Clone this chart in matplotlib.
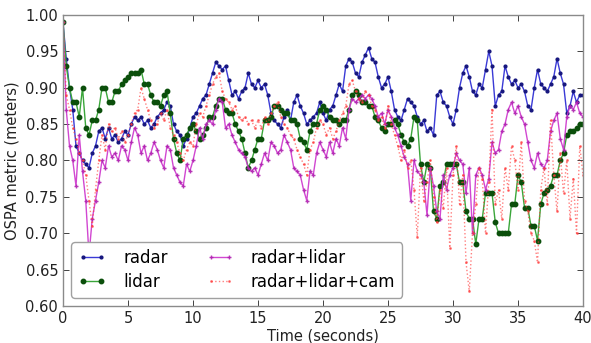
import matplotlib
matplotlib.use("Agg")
import matplotlib.pyplot as plt
import numpy as np

# time axis (seconds), one sample every 0.25 s
time_s = np.linspace(0, 40, 161)

radar = [
    0.99, 0.94, 0.90, 0.87, 0.82, 0.81, 0.80, 0.795, 0.79, 0.81, 0.82, 0.84, 0.845, 0.83, 0.845, 0.83, 0.835, 0.825, 0.83, 0.84,
    0.835, 0.85, 0.86, 0.855, 0.86, 0.85, 0.855, 0.845, 0.85, 0.86, 0.865, 0.87, 0.88, 0.875, 0.85, 0.84, 0.835, 0.82, 0.83, 0.845,
    0.86, 0.865, 0.875, 0.885, 0.89, 0.905, 0.92, 0.935, 0.93, 0.925, 0.93, 0.91, 0.89, 0.895, 0.885, 0.895, 0.90, 0.92, 0.905, 0.90,
    0.91, 0.90, 0.905, 0.89, 0.865, 0.855, 0.85, 0.845, 0.86, 0.87, 0.855, 0.88, 0.89, 0.875, 0.865, 0.85, 0.855, 0.86, 0.865, 0.88,
    0.865, 0.855, 0.87, 0.875, 0.89, 0.905, 0.895, 0.93, 0.94, 0.935, 0.92, 0.915, 0.935, 0.945, 0.955, 0.94, 0.935, 0.915, 0.90, 0.905,
    0.915, 0.895, 0.87, 0.86, 0.855, 0.87, 0.885, 0.88, 0.875, 0.86, 0.85, 0.855, 0.84, 0.845, 0.835, 0.89, 0.895, 0.88, 0.875, 0.86,
    0.85, 0.87, 0.90, 0.92, 0.93, 0.915, 0.895, 0.89, 0.905, 0.90, 0.925, 0.95, 0.93, 0.875, 0.89, 0.895, 0.93, 0.915, 0.905, 0.91,
    0.90, 0.905, 0.895, 0.875, 0.87, 0.90, 0.925, 0.905, 0.90, 0.895, 0.905, 0.915, 0.94, 0.92, 0.905, 0.865, 0.875, 0.895, 0.88, 0.89,
    0.89,
]

lidar = [
    0.99, 0.93, 0.90, 0.88, 0.88, 0.86, 0.90, 0.845, 0.835, 0.855, 0.855, 0.87, 0.90, 0.90, 0.88, 0.88, 0.895, 0.895, 0.905, 0.91,
    0.915, 0.92, 0.92, 0.92, 0.925, 0.905, 0.905, 0.89, 0.88, 0.88, 0.875, 0.89, 0.895, 0.865, 0.83, 0.81, 0.80, 0.83, 0.835, 0.845,
    0.85, 0.84, 0.83, 0.835, 0.845, 0.86, 0.86, 0.875, 0.885, 0.885, 0.87, 0.865, 0.865, 0.85, 0.84, 0.83, 0.81, 0.79, 0.80, 0.815,
    0.83, 0.83, 0.855, 0.855, 0.86, 0.875, 0.875, 0.87, 0.865, 0.865, 0.855, 0.855, 0.85, 0.83, 0.825, 0.815, 0.84, 0.85, 0.85, 0.87,
    0.875, 0.87, 0.86, 0.855, 0.855, 0.85, 0.855, 0.855, 0.87, 0.89, 0.895, 0.89, 0.88, 0.88, 0.875, 0.875, 0.86, 0.855, 0.845, 0.84,
    0.85, 0.85, 0.855, 0.85, 0.835, 0.825, 0.82, 0.83, 0.86, 0.855, 0.795, 0.77, 0.795, 0.79, 0.73, 0.72, 0.765, 0.77, 0.795, 0.795,
    0.795, 0.795, 0.77, 0.77, 0.73, 0.72, 0.72, 0.685, 0.72, 0.72, 0.755, 0.755, 0.755, 0.715, 0.70, 0.70, 0.70, 0.70, 0.74, 0.74,
    0.78, 0.77, 0.735, 0.735, 0.71, 0.71, 0.69, 0.74, 0.755, 0.76, 0.765, 0.78, 0.78, 0.80, 0.81, 0.835, 0.84, 0.84, 0.845, 0.85,
    0.85,
]

radar_lidar = [
    0.99, 0.87, 0.82, 0.80, 0.765, 0.835, 0.785, 0.745, 0.67, 0.72, 0.745, 0.77, 0.80, 0.79, 0.82, 0.805, 0.81, 0.80, 0.82, 0.815,
    0.80, 0.825, 0.845, 0.835, 0.81, 0.82, 0.80, 0.81, 0.825, 0.815, 0.80, 0.79, 0.82, 0.815, 0.79, 0.78, 0.77, 0.765, 0.795, 0.785,
    0.80, 0.82, 0.845, 0.83, 0.85, 0.855, 0.85, 0.87, 0.885, 0.88, 0.845, 0.85, 0.835, 0.825, 0.815, 0.81, 0.805, 0.79, 0.785, 0.79,
    0.78, 0.795, 0.81, 0.80, 0.825, 0.82, 0.81, 0.815, 0.835, 0.825, 0.815, 0.79, 0.785, 0.78, 0.76, 0.745, 0.785, 0.78, 0.81, 0.825,
    0.815, 0.805, 0.825, 0.81, 0.83, 0.82, 0.845, 0.83, 0.87, 0.885, 0.88, 0.885, 0.89, 0.885, 0.89, 0.885, 0.875, 0.86, 0.865, 0.85,
    0.87, 0.86, 0.845, 0.835, 0.82, 0.805, 0.795, 0.745, 0.80, 0.785, 0.78, 0.77, 0.725, 0.79, 0.765, 0.73, 0.72, 0.78, 0.76, 0.78,
    0.79, 0.81, 0.80, 0.795, 0.755, 0.79, 0.70, 0.78, 0.79, 0.78, 0.76, 0.775, 0.825, 0.81, 0.815, 0.84, 0.85, 0.87, 0.88, 0.865,
    0.875, 0.86, 0.85, 0.825, 0.80, 0.79, 0.81, 0.795, 0.79, 0.80, 0.84, 0.855, 0.865, 0.83, 0.815, 0.86, 0.875, 0.87, 0.88, 0.865,
    0.86,
]

radar_lidar_cam = [
    0.99, 0.89, 0.87, 0.845, 0.83, 0.81, 0.80, 0.78, 0.745, 0.71, 0.76, 0.80, 0.835, 0.815, 0.85, 0.84, 0.845, 0.83, 0.84, 0.825,
    0.835, 0.85, 0.865, 0.87, 0.90, 0.885, 0.87, 0.855, 0.845, 0.85, 0.865, 0.855, 0.87, 0.845, 0.835, 0.825, 0.81, 0.80, 0.815, 0.825,
    0.82, 0.85, 0.865, 0.86, 0.875, 0.89, 0.905, 0.915, 0.92, 0.895, 0.885, 0.88, 0.87, 0.875, 0.86, 0.855, 0.86, 0.85, 0.855, 0.845,
    0.855, 0.845, 0.86, 0.85, 0.865, 0.875, 0.88, 0.86, 0.85, 0.845, 0.835, 0.83, 0.815, 0.805, 0.795, 0.78, 0.815, 0.825, 0.845, 0.855,
    0.85, 0.835, 0.845, 0.83, 0.84, 0.855, 0.865, 0.875, 0.905, 0.91, 0.895, 0.885, 0.88, 0.895, 0.89, 0.875, 0.87, 0.855, 0.86, 0.845,
    0.875, 0.85, 0.835, 0.82, 0.80, 0.815, 0.79, 0.80, 0.76, 0.695, 0.79, 0.745, 0.77, 0.80, 0.75, 0.715, 0.76, 0.735, 0.79, 0.68,
    0.78, 0.82, 0.74, 0.78, 0.66, 0.62, 0.70, 0.74, 0.79, 0.775, 0.70, 0.77, 0.87, 0.74, 0.76, 0.72, 0.79, 0.76, 0.82, 0.80,
    0.76, 0.825, 0.745, 0.73, 0.70, 0.69, 0.66, 0.76, 0.79, 0.74, 0.855, 0.78, 0.73, 0.81, 0.755, 0.80, 0.72, 0.775, 0.70, 0.82,
    0.78,
]

labels = ["radar", "lidar", "radar+lidar", "radar+lidar+cam"]
x_ticks = [0, 5, 10, 15, 20, 25, 30, 35, 40]
y_ticks = [0.60, 0.65, 0.70, 0.75, 0.80, 0.85, 0.90, 0.95, 1.00]

plt.rcParams["font.family"] = "DejaVu Sans"
plt.rcParams["xtick.direction"] = "in"
plt.rcParams["ytick.direction"] = "in"

fig = plt.figure(figsize=(5.91, 3.43), dpi=100)
ax = fig.add_axes([0.1066, 0.1079, 0.8799, 0.8484])

ax.plot(time_s, radar, color="#3a3ad6", linewidth=1.0, marker=".", markersize=4,
        markerfacecolor="#16167e", markeredgecolor="#16167e", label=labels[0])
ax.plot(time_s, lidar, color="#3aa63a", linewidth=1.0, marker="o", markersize=3.2,
        markerfacecolor="#0b4f0b", markeredgecolor="#0b4f0b", label=labels[1])
ax.plot(time_s, radar_lidar, color="#cc33cc", linewidth=1.0, marker="+", markersize=3,
        markeredgecolor="#b022b0", alpha=0.9, label=labels[2])
ax.plot(time_s, radar_lidar_cam, color="#ff3a3a", linewidth=1.0, linestyle=":", marker=".",
        markersize=2, alpha=0.65, label=labels[3])

ax.set_xlim(0, 40)
ax.set_ylim(0.60, 1.00)
ax.set_xticks(x_ticks)
ax.set_yticks(y_ticks)
ax.set_yticklabels([f"{v:.2f}" for v in y_ticks])
ax.tick_params(axis="both", labelsize=10.5, colors="#222222", top=True, right=True,
               length=4, width=0.6)
for s in ax.spines.values():
    s.set_color("#8a8a8a")
    s.set_linewidth(1.0)

ax.set_xlabel("Time (seconds)", fontsize=10.5, color="#222222", labelpad=2)
ax.set_ylabel("OSPA metric (meters)", fontsize=10.5, color="#222222")

leg = ax.legend(loc="lower left", ncol=2, numpoints=2, fontsize=12, handlelength=1.7,
                handletextpad=1.0, columnspacing=2.3, labelspacing=0.35, borderpad=0.4,
                fancybox=True, framealpha=1.0)
leg.get_frame().set_edgecolor("#a0a0a0")

fig.savefig("out.png", dpi=100)
